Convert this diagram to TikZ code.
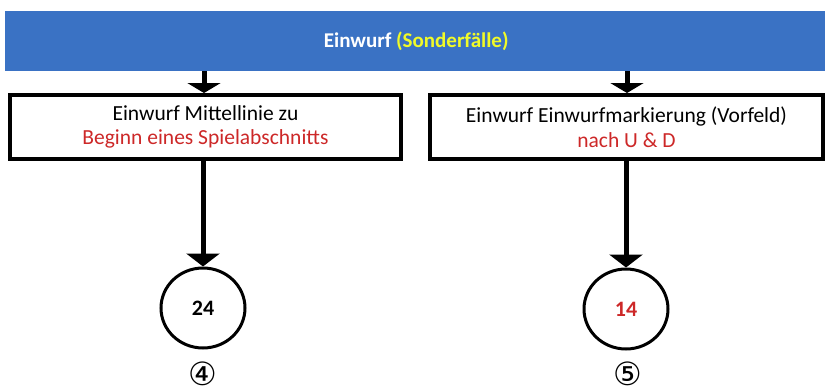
\documentclass[tikz,border=0pt]{standalone}
\usepackage{fontspec}
\setmainfont{Carlito}
\newfontfamily\symfont{DejaVu Sans}
\usetikzlibrary{arrows.meta,shapes.geometric}
\definecolor{barblue}{RGB}{58,114,196}
\definecolor{txtred}{RGB}{205,40,40}
\definecolor{txtyellow}{RGB}{240,250,40}
\tikzset{
  boxnode/.style={draw=black, line width=4pt, fill=white, inner sep=0pt},
  flowarrow/.style={line width=5pt, -{Triangle[width=33pt,length=13pt]}},
  circnode/.style={draw=black, line width=3pt, ellipse, inner sep=0pt, font=\fontsize{22}{26}\selectfont\bfseries},
  numlabel/.style={font=\symfont\fontsize{32}{34}\selectfont, inner sep=0pt},
}
\begin{document}
\begin{tikzpicture}[x=1pt,y=-1pt]
\useasboundingbox (0,0) rectangle (825,391);
\fill[white] (0,0) rectangle (825,391);
% top bar
\node[fill=barblue, minimum width=822pt, minimum height=60pt, inner sep=0pt, anchor=north west,
  font=\fontsize{21}{24}\selectfont\bfseries] (bar) at (5,11)
  {\textcolor{white}{Einwurf} \textcolor{txtyellow}{(Sonderfälle)}};
% boxes
\node[boxnode, minimum width=391pt, minimum height=64pt, anchor=north west, align=center,
  font=\fontsize{21.5}{24.5}\selectfont] (lb) at (8,93)
  {Einwurf Mittellinie zu\\\textcolor{txtred}{Beginn eines Spielabschnitts}};
\node[boxnode, minimum width=393pt, minimum height=64pt, anchor=north west, align=center,
  font=\fontsize{21.5}{24.5}\selectfont] (rb) at (428,93)
  {Einwurf Einwurfmarkierung (Vorfeld)\\\textcolor{txtred}{nach U \& D}};
% circles
\node[circnode, minimum width=84pt, minimum height=80pt] (lc) at (203,308) {24};
\node[circnode, minimum width=84pt, minimum height=80pt, text=txtred] (rc) at (626,309) {14};
% numbered labels
\node[numlabel] (n4) at (203,374) {④};
\node[numlabel] (n5) at (628,374) {⑤};
% coordinates for arrows
\coordinate (a1s) at (204,71);
\coordinate (a2s) at (627,71);
% arrows
\draw[flowarrow, -{Triangle[width=33pt,length=10pt]}] (a1s) -- (a1s |- lb.north);
\draw[flowarrow, -{Triangle[width=33pt,length=10pt]}] (a2s) -- (a2s |- rb.north);
\draw[flowarrow] (lc.north |- lb.south) -- (lc.north);
\draw[flowarrow] (rc.north |- rb.south) -- (rc.north);
\end{tikzpicture}
\end{document}
